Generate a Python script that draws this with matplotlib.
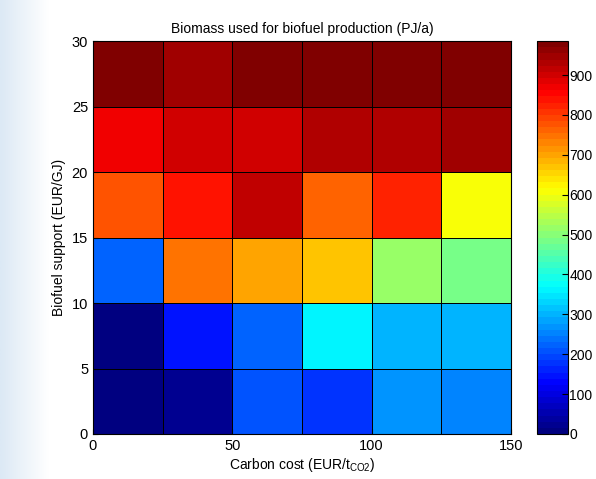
import numpy as np
import matplotlib.pyplot as plt
from matplotlib.colors import LinearSegmentedColormap

# Cell edges (carbon cost on x, biofuel support on y)
carbon_cost = [0, 25, 50, 75, 100, 125, 150]
biofuel_support = [0, 5, 10, 15, 20, 25, 30]

# Biomass used (PJ/a), rows from bottom (0-5) to top (25-30)
row_0_5 = [12, 20, 205, 170, 275, 258]
row_5_10 = [5, 143, 222, 355, 307, 305]
row_10_15 = [228, 739, 702, 677, 522, 483]
row_15_20 = [770, 832, 916, 755, 828, 615]
row_20_25 = [862, 897, 906, 938, 938, 948]
row_25_30 = [982, 953, 972, 985, 985, 978]

biomass = np.array([row_0_5, row_5_10, row_10_15, row_15_20, row_20_25, row_25_30])

cbar_ticks = [0, 100, 200, 300, 400, 500, 600, 700, 800, 900]

# MATLAB style jet
matlab_jet = LinearSegmentedColormap('matlab_jet', {
    'red': [(0, 0, 0), (3/8, 0, 0), (5/8, 1, 1), (7/8, 1, 1), (1, 0.5, 0.5)],
    'green': [(0, 0, 0), (1/8, 0, 0), (3/8, 1, 1), (5/8, 1, 1), (7/8, 0, 0), (1, 0, 0)],
    'blue': [(0, 0.5, 0.5), (1/8, 1, 1), (3/8, 1, 1), (5/8, 0, 0), (1, 0, 0)],
}, N=64)

plt.rcParams['font.family'] = ['Liberation Sans', 'DejaVu Sans']

fig = plt.figure(figsize=(5.96, 4.79), dpi=100)

# faint light blue slide background at the left edge
bg = fig.add_axes([0, 0, 1, 1], zorder=-10)
grad = np.clip(1 - np.linspace(0, 1, 300) / 0.08, 0, 1)[None, :]
bg.imshow(grad, extent=[0, 1, 0, 1], aspect='auto',
          cmap=LinearSegmentedColormap.from_list('bgc', ['white', '#dce9f5']))
bg.axis('off')

ax = fig.add_axes([0.156, 0.094, 0.701, 0.820])
mesh = ax.pcolormesh(carbon_cost, biofuel_support, biomass, cmap=matlab_jet,
                     vmin=0, vmax=biomass.max(), edgecolors='black', linewidth=0.6)
ax.set_xlim(0, 150)
ax.set_ylim(0, 30)
ax.set_xticks([0, 50, 100, 150])
ax.set_yticks(biofuel_support)
ax.tick_params(direction='in', labelsize=10.5)
ax.set_title('Biomass used for biofuel production (PJ/a)', fontsize=10, pad=6)
ax.set_xlabel(r'Carbon cost (EUR/t$_{\mathregular{CO2}}$)', fontsize=10, labelpad=2)
ax.set_ylabel('Biofuel support (EUR/GJ)', fontsize=10, labelpad=4)

cax = fig.add_axes([0.901, 0.094, 0.052, 0.820])
cb = fig.colorbar(mesh, cax=cax, ticks=cbar_ticks)
cb.ax.tick_params(direction='in', labelsize=10, length=4, pad=1)
cb.outline.set_linewidth(0.8)

fig.savefig('out.png', dpi=100)
